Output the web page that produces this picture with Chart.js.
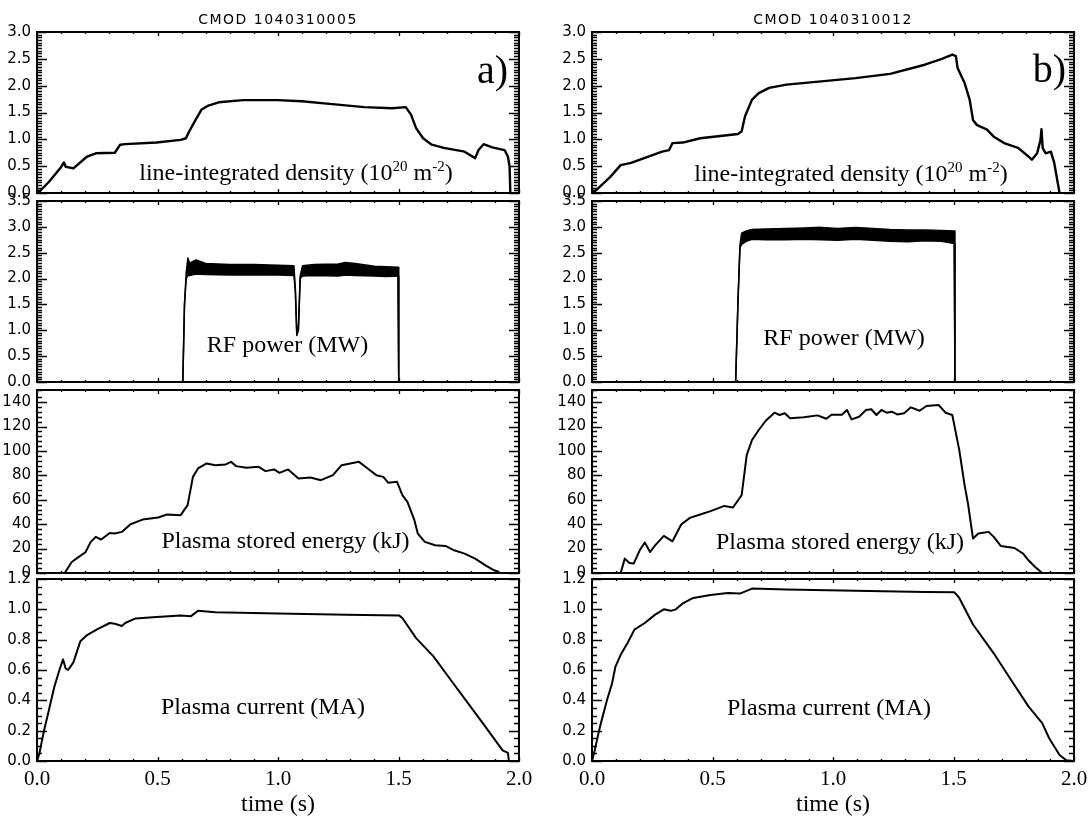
<!DOCTYPE html>
<html><head><meta charset="utf-8">
<script src="https://cdn.jsdelivr.net/npm/chart.js@4.4.0/dist/chart.umd.min.js"></script>
<style>
html,body{margin:0;padding:0;background:#fff;}
#wrap{position:relative;width:1090px;height:821px;overflow:hidden;background:#fff;}
#wrap canvas{position:absolute;}
.t{position:absolute;white-space:nowrap;font-family:"Liberation Serif","Times New Roman",serif;color:#000;line-height:1;}
.t sup{font-size:15px;position:relative;top:-9px;vertical-align:baseline;line-height:0;}
.hdr{position:absolute;white-space:nowrap;font-family:"DejaVu Sans",sans-serif;font-size:14px;letter-spacing:1.5px;line-height:1;color:#000;}
</style></head>
<body><div id="wrap"></div>
<script>
// ---------- data ----------
// time axis
const xMajor = [0, 0.5, 1.0, 1.5, 2.0];
const xLabels = ['0.0', '0.5', '1.0', '1.5', '2.0'];

// tick labels per row
const yMajorDens = [0, 0.5, 1.0, 1.5, 2.0, 2.5, 3.0];
const yLabelsDens = ['0.0', '0.5', '1.0', '1.5', '2.0', '2.5', '3.0'];
const yMajorRF = [0, 0.5, 1.0, 1.5, 2.0, 2.5, 3.0, 3.5];
const yLabelsRF = ['0.0', '0.5', '1.0', '1.5', '2.0', '2.5', '3.0', '3.5'];
const yMajorW = [0, 20, 40, 60, 80, 100, 120, 140];
const yLabelsW = ['0', '20', '40', '60', '80', '100', '120', '140'];
const yMajorI = [0, 0.2, 0.4, 0.6, 0.8, 1.0, 1.2];
const yLabelsI = ['0.0', '0.2', '0.4', '0.6', '0.8', '1.0', '1.2'];

// a) shot 1040310005 — line-integrated density
const densA_t = [0.004,0.05,0.079,0.101,0.112,0.119,0.151,0.208,0.244,0.323,0.345,0.366,0.496,0.596,0.618,0.632,0.654,0.682,0.711,0.754,0.855,0.999,1.099,1.214,1.358,1.473,1.53,1.552,1.573,1.602,1.638,1.688,1.774,1.818,1.832,1.853,1.889,1.94,1.954,1.961,1.964];
const densA   = [0.0,0.21,0.37,0.49,0.57,0.49,0.46,0.68,0.74,0.75,0.9,0.91,0.94,0.99,1.02,1.15,1.33,1.55,1.63,1.69,1.73,1.73,1.71,1.66,1.6,1.58,1.6,1.46,1.21,1.02,0.9,0.84,0.77,0.65,0.8,0.91,0.85,0.8,0.68,0.49,0.0];
// b) shot 1040310012 — line-integrated density
const densB_t = [0.004,0.033,0.076,0.119,0.162,0.234,0.291,0.32,0.334,0.377,0.449,0.606,0.621,0.635,0.664,0.692,0.735,0.807,0.951,1.094,1.237,1.381,1.452,1.495,1.51,1.517,1.546,1.567,1.581,1.596,1.639,1.667,1.71,1.768,1.811,1.825,1.847,1.861,1.865,1.87,1.882,1.904,1.918,1.94];
const densB   = [0,0.12,0.3,0.52,0.56,0.68,0.77,0.8,0.93,0.94,1.02,1.1,1.15,1.43,1.74,1.86,1.96,2.02,2.08,2.14,2.22,2.39,2.5,2.58,2.55,2.33,2.05,1.74,1.36,1.27,1.18,1.05,0.93,0.84,0.68,0.62,0.74,0.99,1.19,0.84,0.74,0.77,0.56,0];

// RF power (upper and lower envelope of the noisy trace)
const rfA_t  = [0,0.605,0.612,0.619,0.626,0.633,0.66,0.70,0.80,0.90,1.00,1.066,1.072,1.078,1.085,1.092,1.102,1.15,1.25,1.28,1.32,1.40,1.45,1.498,1.501,2.0];
const rfA_hi = [0,0,1.5,2.1,2.4,2.3,2.36,2.29,2.27,2.27,2.26,2.25,1.8,0.95,1.1,2.05,2.25,2.27,2.28,2.31,2.29,2.24,2.23,2.22,0,0];
const rfA_lo = [0,0,1.5,2.0,2.06,2.06,2.09,2.08,2.07,2.07,2.07,2.06,1.75,0.9,1.0,2.0,2.05,2.06,2.05,2.07,2.06,2.05,2.04,2.05,0,0];
const rfB_t  = [0,0.596,0.606,0.614,0.621,0.64,0.664,0.72,0.807,0.88,0.951,1.02,1.094,1.166,1.237,1.31,1.381,1.45,1.503,1.506,2.0];
const rfB_hi = [0,0,1.6,2.65,2.88,2.92,2.95,2.96,2.97,2.98,2.99,2.97,2.99,2.97,2.95,2.94,2.94,2.93,2.92,0,0];
const rfB_lo = [0,0,1.6,2.6,2.66,2.72,2.76,2.75,2.75,2.76,2.75,2.74,2.76,2.74,2.72,2.71,2.73,2.72,2.68,0,0];

// Plasma stored energy (kJ)
const enA_t = [0.115,0.144,0.172,0.201,0.223,0.244,0.266,0.302,0.323,0.352,0.388,0.438,0.503,0.539,0.596,0.625,0.647,0.668,0.704,0.74,0.783,0.805,0.826,0.869,0.92,0.948,0.984,1.006,1.042,1.085,1.135,1.178,1.228,1.264,1.3,1.336,1.372,1.408,1.437,1.458,1.494,1.516,1.537,1.566,1.58,1.609,1.652,1.695,1.731,1.774,1.818,1.861,1.897,1.918];
const enA   = [0,9,13,17,25.5,29.6,27.4,32.8,32.3,33.7,40,43.8,45.5,48,47.4,55.6,78.8,85.7,89.8,88.4,89,91.1,87.6,86.2,87,83.5,84.9,82.1,84.9,77.5,78.3,76.1,80.2,88.4,89.8,91.1,85.7,80.2,78.8,73.9,74.7,63.8,58.3,43.3,32.3,25.5,22.7,22.2,18.6,15.9,11.8,6.3,2.2,0.8];
const enB_t = [0.119,0.136,0.155,0.173,0.198,0.219,0.241,0.262,0.298,0.334,0.37,0.406,0.449,0.492,0.549,0.585,0.621,0.642,0.664,0.692,0.721,0.757,0.778,0.8,0.822,0.879,0.936,0.972,0.994,1.037,1.058,1.077,1.108,1.137,1.159,1.18,1.201,1.223,1.244,1.266,1.295,1.323,1.359,1.388,1.438,1.467,1.495,1.524,1.546,1.56,1.581,1.603,1.646,1.667,1.696,1.725,1.753,1.789,1.811,1.839,1.868];
const enB   = [0,11.8,8.2,7.7,18.6,25,17.2,22.7,30.4,26,39.7,45.2,48,50.7,55,53.7,63.8,96.6,109,117.2,124.8,131.4,129.5,130.9,126.8,127.6,129.2,126.4,129.7,129.7,133.6,125.9,128.1,133.6,134.2,129.5,133.6,131.4,132.2,130,130.9,135.8,133,136.9,137.7,131.4,129.5,100.7,72,57,28.2,32.3,33.7,29.6,22.2,21.3,20.5,15.9,10.4,4.9,0];

// Plasma current (MA)
const curA_t = [0,0.01,0.029,0.05,0.072,0.093,0.108,0.119,0.129,0.151,0.18,0.208,0.251,0.302,0.323,0.352,0.366,0.409,0.496,0.596,0.639,0.668,0.74,0.999,1.286,1.502,1.516,1.573,1.645,1.717,1.789,1.861,1.932,1.954,1.958];
const curA   = [0,0.05,0.2,0.34,0.49,0.6,0.67,0.61,0.6,0.65,0.79,0.83,0.87,0.91,0.905,0.89,0.91,0.94,0.95,0.96,0.955,0.99,0.98,0.973,0.965,0.96,0.943,0.81,0.69,0.534,0.38,0.225,0.07,0.053,0];
const curB_t = [0,0.011,0.033,0.062,0.083,0.097,0.119,0.148,0.176,0.219,0.262,0.298,0.327,0.348,0.377,0.42,0.492,0.563,0.614,0.664,0.807,1.094,1.381,1.503,1.524,1.581,1.667,1.739,1.811,1.868,1.897,1.94,1.968,1.997];
const curB   = [0,0.07,0.225,0.4,0.51,0.62,0.7,0.78,0.866,0.91,0.965,1.0,0.99,1.0,1.04,1.075,1.095,1.108,1.104,1.137,1.13,1.122,1.115,1.113,1.075,0.9,0.71,0.534,0.36,0.25,0.15,0.04,0.005,0];

// ---------- layout ----------
const COLS = [{L:37, R:519}, {L:592, R:1074}];
const ROWS = [{T:32, B:193}, {T:201, B:382}, {T:390, B:573}, {T:579, B:761}];
const wrap = document.getElementById('wrap');

const pts = (t, v) => t.map((x, i) => ({x: x, y: v[i]}));
const near = (a, b) => Math.abs(a - b) < 1e-6;
function labeler(majorVals, labels) {
  return v => { const i = majorVals.findIndex(m => near(m, v)); return i >= 0 ? labels[i] : ''; };
}

// inward major/minor tick marks on all four sides, placed with the chart's own scales
function makeTickPlugin(yMajor) {
  const cfg = {
    x: {major: xMajor, majorLen: 4, minorLen: 2},
    y: {major: yMajor, majorLen: 10, minorLen: 5}
  };
  return {
    id: 'inTicks',
    afterDraw(chart) {
      const ctx = chart.ctx, a = chart.chartArea;
      ctx.save();
      ctx.setLineDash([]);
      ctx.strokeStyle = '#000';
      ctx.lineWidth = 1.3;
      ['x', 'y'].forEach(id => {
        const s = chart.scales[id], c = cfg[id];
        (s.ticks || []).forEach(t => {
          const maj = c.major.some(m => near(m, t.value));
          const len = maj ? c.majorLen : c.minorLen;
          const p = Math.round(s.getPixelForValue(t.value)) + 0.5;
          ctx.beginPath();
          if (id === 'x') {
            ctx.moveTo(p, a.bottom); ctx.lineTo(p, a.bottom - len);
            ctx.moveTo(p, a.top); ctx.lineTo(p, a.top + len);
          } else {
            ctx.moveTo(a.left, p); ctx.lineTo(a.left + len, p);
            ctx.moveTo(a.right, p); ctx.lineTo(a.right - len, p);
          }
          ctx.stroke();
        });
      });
      ctx.restore();
    }
  };
}

function panel(col, row, datasets, y) {
  const c = COLS[col], r = ROWS[row];
  const showX = row === 3;
  const padL = 45, padR = 30, padT = 18, padB = showX ? 821 - r.B : 18;
  const cv = document.createElement('canvas');
  const w = c.R - c.L + padL + padR, h = r.B - r.T + padT + padB;
  cv.width = w; cv.height = h;
  cv.style.left = (c.L - padL) + 'px'; cv.style.top = (r.T - padT) + 'px';
  cv.style.width = w + 'px'; cv.style.height = h + 'px';
  wrap.appendChild(cv);
  const border = {display: true, color: '#000', width: 2};
  const noGrid = {display: false, drawTicks: false, tickLength: 0};
  new Chart(cv.getContext('2d'), {
    type: 'line',
    data: {datasets: datasets},
    plugins: [makeTickPlugin(y.major)],
    options: {
      responsive: false, animation: false, events: [], devicePixelRatio: 1,
      layout: {padding: {left: 0, right: padR, top: padT, bottom: showX ? 0 : padB}},
      plugins: {legend: {display: false}, tooltip: {enabled: false}, title: {display: false}},
      elements: {point: {radius: 0}, line: {tension: 0, borderColor: '#000', borderWidth: 2, borderJoinStyle: 'round', fill: false}},
      scales: {
        x: {
          type: 'linear', position: 'bottom', min: 0, max: 2,
          ticks: {stepSize: 0.1, autoSkip: false, maxRotation: 0, maxTicksLimit: 1000, display: showX, padding: 6,
                  color: '#000', font: {family: 'Liberation Serif', size: 21}, callback: labeler(xMajor, xLabels)},
          grid: noGrid, border: border,
          title: {display: showX, text: 'time (s)', color: '#000', font: {family: 'Liberation Serif', size: 24}, padding: {top: 0, bottom: 2}},
          afterFit: s => { s.height = showX ? padB : 0; }
        },
        x2: {
          type: 'linear', position: 'top', min: 0, max: 2,
          ticks: {display: false}, grid: noGrid, border: border,
          afterFit: s => { s.height = 0; }
        },
        y: {
          type: 'linear', position: 'left', min: y.min, max: y.max,
          ticks: {stepSize: y.minor, autoSkip: false, maxTicksLimit: 1000, padding: 6, color: '#000',
                  font: {family: 'DejaVu Sans', size: 15}, callback: labeler(y.major, y.labels)},
          grid: noGrid, border: border,
          afterFit: s => { s.width = padL; }
        },
        y2: {
          type: 'linear', position: 'right', min: y.min, max: y.max,
          ticks: {display: false}, grid: noGrid, border: border,
          afterFit: s => { s.width = 0; }
        }
      }
    }
  });
}

const line = (t, v, bw) => ({data: pts(t, v), borderColor: '#000', borderWidth: bw, pointRadius: 0, fill: false});
const band = (t, hi, lo) => [
  {data: pts(t, hi), borderColor: '#000', borderWidth: 1.5, pointRadius: 0, fill: false},
  {data: pts(t, lo), borderColor: '#000', borderWidth: 1.5, pointRadius: 0, fill: '-1', backgroundColor: '#000'}
];

const yDens = {min: 0, max: 3.0, minor: 0.05, major: yMajorDens, labels: yLabelsDens};
const yRF   = {min: 0, max: 3.5, minor: 0.05, major: yMajorRF, labels: yLabelsRF};
const yW    = {min: 0, max: 150, minor: 4, major: yMajorW, labels: yLabelsW};
const yI    = {min: 0, max: 1.2, minor: 0.05, major: yMajorI, labels: yLabelsI};

panel(0, 0, [line(densA_t, densA, 2.4)], yDens);
panel(1, 0, [line(densB_t, densB, 2.4)], yDens);
panel(0, 1, band(rfA_t, rfA_hi, rfA_lo), yRF);
panel(1, 1, band(rfB_t, rfB_hi, rfB_lo), yRF);
panel(0, 2, [line(enA_t, enA, 2)], yW);
panel(1, 2, [line(enB_t, enB, 2)], yW);
panel(0, 3, [line(curA_t, curA, 2)], yI);
panel(1, 3, [line(curB_t, curB, 2)], yI);

// ---------- text ----------
function txt(html, cx, base, size, align, cls) {
  const d = document.createElement('div');
  d.className = cls || 't';
  d.innerHTML = html;
  d.style.fontSize = size + 'px';
  const asc = (cls === 'hdr') ? 0.846 : 0.8375;
  d.style.top = (base - asc * size) + 'px';
  if (align === 'right') { d.style.right = (1090 - cx) + 'px'; }
  else { d.style.left = cx + 'px'; d.style.transform = 'translateX(-50%)'; }
  wrap.appendChild(d);
}
txt('CMOD 1040310005', 278, 24, 14, 'center', 'hdr');
txt('CMOD 1040310012', 833, 24, 14, 'center', 'hdr');
txt('a)', 508, 83, 40, 'right');
txt('b)', 1066, 82, 40, 'right');
txt('line-integrated density (10<sup>20</sup> m<sup>-2</sup>)', 296, 180, 24);
txt('line-integrated density (10<sup>20</sup> m<sup>-2</sup>)', 851, 181, 24);
txt('RF power (MW)', 287.5, 352.5, 24);
txt('RF power (MW)', 844, 345, 24);
txt('Plasma stored energy (kJ)', 285.5, 548.5, 24);
txt('Plasma stored energy (kJ)', 840, 549, 24);
txt('Plasma current (MA)', 263, 714, 24);
txt('Plasma current (MA)', 829, 715, 24);
</script>
</body></html>
